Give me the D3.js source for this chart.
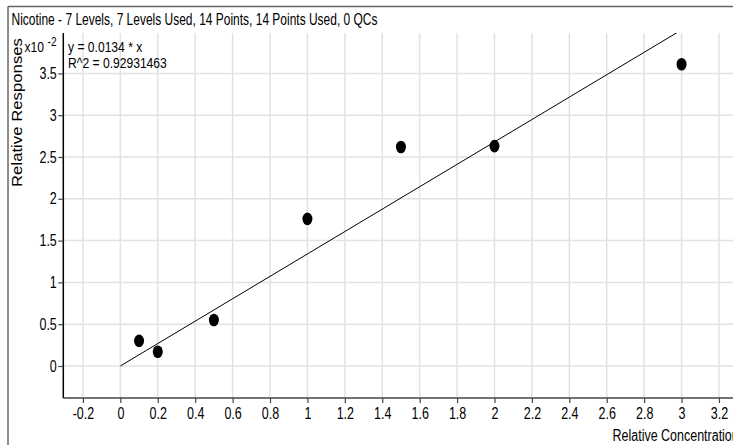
<!DOCTYPE html>
<html>
<head>
<meta charset="utf-8">
<script src="https://cdn.jsdelivr.net/npm/d3@7"></script>
<style>
html,body{margin:0;padding:0;background:#fff;overflow:hidden;}
svg{display:block;}
text{font-family:"Liberation Sans",Arial,sans-serif;}
</style>
</head>
<body>
<svg id="chart" width="733" height="445"></svg>
<script>
const title = "Nicotine - 7 Levels, 7 Levels Used, 14 Points, 14 Points Used, 0 QCs";
const xLabel = "Relative Concentration";
const yLabel = "Relative Responses";
const equationLines = ["y = 0.0134 * x", "R^2 = 0.92931463"];
const slope = 1.34; // in units of x10^-2
const concentrations = [0.1, 0.2, 0.5, 1.0, 1.5, 2.0, 3.0];
const responses = [0.30, 0.17, 0.55, 1.76, 2.62, 2.63, 3.61]; // x10^-2
const xTicks = [-0.2,0,0.2,0.4,0.6,0.8,1,1.2,1.4,1.6,1.8,2,2.2,2.4,2.6,2.8,3,3.2];
const yTicks = [0,0.5,1,1.5,2,2.5,3,3.5];

(function(){
const svg = d3.select("#chart");
const W = 733, H = 445;
const pL = 63.3, pT = 33, pB = 398, pR = 733;
const K = 0.78; // horizontal condensing factor for narrow text

function narrow(sel, k){
  sel.each(function(){
    const L = this.getComputedTextLength();
    d3.select(this).attr("textLength", L*(k||K)).attr("lengthAdjust","spacingAndGlyphs");
  });
}

const x = d3.scaleLinear().domain([-0.305, 3.275]).range([pL, pR]);
const y = d3.scaleLinear().domain([-0.383, 3.983]).range([pB, pT]);

// frame
svg.append("line").attr("x1",8).attr("x2",8).attr("y1",6.5).attr("y2",H).attr("stroke","#666").attr("stroke-width",1.5);
svg.append("line").attr("x1",8).attr("x2",W).attr("y1",6.5).attr("y2",6.5).attr("stroke","#666").attr("stroke-width",1.5);

// title
svg.append("text").attr("x",11.5).attr("y",25).attr("font-size",16)
  .attr("fill","#000").attr("textLength",366).attr("lengthAdjust","spacingAndGlyphs").text(title);

// gridlines
const grid = svg.append("g");
grid.selectAll("line.vx").data(xTicks).join("line").attr("class","vx")
  .attr("x1",d=>x(d)).attr("x2",d=>x(d)).attr("y1",pT).attr("y2",pB)
  .attr("stroke","#e2e2e2").attr("stroke-width",1.5);
grid.selectAll("line.hy").data(yTicks).join("line").attr("class","hy")
  .attr("x1",pL).attr("x2",pR).attr("y1",d=>y(d)).attr("y2",d=>y(d))
  .attr("stroke","#e2e2e2").attr("stroke-width",1.5);

// axes
const xAxis = d3.axisBottom(x).tickValues(xTicks).tickSize(5).tickPadding(5)
  .tickFormat(d=>String(+d.toFixed(1)));
const gx = svg.append("g").attr("transform",`translate(0,${pB})`).call(xAxis);
gx.select(".domain").attr("stroke","#444").attr("stroke-width",1.5).attr("d",`M${pL},0H${pR}`);
gx.selectAll(".tick line").attr("stroke","#444").attr("stroke-width",1.2);
gx.selectAll(".tick text").attr("font-family","Liberation Sans, Arial, sans-serif").attr("font-size",16).attr("fill","#000");
narrow(gx.selectAll(".tick text"));

const yAxis = d3.axisLeft(y).tickValues(yTicks).tickSize(5).tickPadding(1.5)
  .tickFormat(d=>String(d));
const gy = svg.append("g").attr("transform",`translate(${pL},0)`).call(yAxis);
gy.select(".domain").attr("stroke","#000").attr("stroke-width",1.5).attr("d",`M0,${pT}V${pB}`);
gy.selectAll(".tick line").attr("stroke","#444").attr("stroke-width",1.2);
gy.selectAll(".tick text").attr("font-family","Liberation Sans, Arial, sans-serif").attr("font-size",16).attr("fill","#000");
narrow(gy.selectAll(".tick text"));

// exponent label
const ex1 = svg.append("text").attr("x",24.5).attr("y",52).attr("font-size",15.5).attr("fill","#000").text("x10");
narrow(ex1);
const ex2 = svg.append("text").attr("x",47.5).attr("y",46).attr("font-size",13).attr("fill","#000").text("-2");
narrow(ex2);

// y label
svg.append("text").attr("transform","translate(22,112.5) rotate(-90)")
  .attr("text-anchor","middle")
  .attr("font-size",14).attr("textLength",149).attr("lengthAdjust","spacingAndGlyphs")
  .attr("fill","#000").text(yLabel);

// x label
const xl = svg.append("text").attr("x",612.5).attr("y",441).attr("font-size",16)
  .attr("fill","#000").text(xLabel);
narrow(xl);

// equation
const eq = svg.selectAll("text.eq").data(equationLines).join("text")
  .attr("class","eq").attr("x",68).attr("y",(d,i)=>52+i*16).attr("font-size",15.5)
  .attr("fill","#000").text(d=>d);
narrow(eq);

// clip for regression line
svg.append("clipPath").attr("id","plotclip").append("rect")
  .attr("x",pL).attr("y",pT).attr("width",pR-pL).attr("height",pB-pT);

const lineXs = [0, 3.0];
svg.append("path").attr("clip-path","url(#plotclip)")
  .attr("d", d3.line().x(d=>x(d)).y(d=>y(slope*d))(lineXs))
  .attr("fill","none").attr("stroke","#000").attr("stroke-width",1);

// points
svg.selectAll("ellipse.pt").data(concentrations).join("ellipse").attr("class","pt")
  .attr("cx",d=>x(d)).attr("cy",(d,i)=>y(responses[i]))
  .attr("rx",5).attr("ry",6.3).attr("fill","#000");
})();
</script>
</body>
</html>
